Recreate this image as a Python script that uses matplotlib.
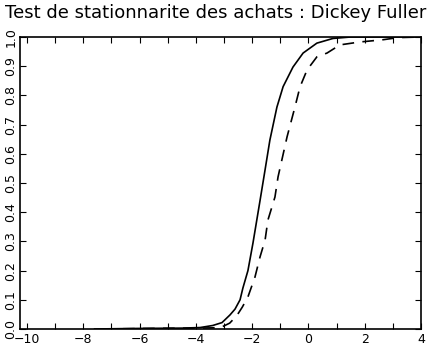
import numpy as np
import matplotlib
matplotlib.use('Agg')
import matplotlib.pyplot as plt
from matplotlib.ticker import MultipleLocator

title = 'Test de stationnarite des achats : Dickey Fuller'

# statistique observee (trait plein)
x_solid = [-7.6, -6.0, -4.5, -3.85, -3.4, -3.07, -2.79, -2.61, -2.43, -2.33, -2.15,
           -1.97, -1.72, -1.55, -1.37, -1.12, -0.90, -0.55, -0.19, 0.30, 0.87, 1.5, 4.0]
y_solid = [0.0, 0.002, 0.003, 0.005, 0.012, 0.022, 0.048, 0.068, 0.10, 0.14, 0.20,
           0.295, 0.44, 0.54, 0.647, 0.76, 0.83, 0.897, 0.945, 0.979, 0.995, 1.0, 1.0]

# distribution de reference (tirets)
x_dash = [-7.3, -5.5, -4.0, -3.4, -3.1, -2.8, -2.55, -2.35, -2.15, -1.90, -1.72, -1.54,
          -1.44, -1.19, -1.08, -0.76, -0.48, -0.30, -0.05, 0.30, 0.66, 1.12, 1.83, 2.6,
          3.2, 4.0]
y_dash = [0.0, 0.002, 0.003, 0.004, 0.006, 0.02, 0.045, 0.075, 0.11, 0.178, 0.247, 0.305,
          0.373, 0.452, 0.521, 0.658, 0.76, 0.829, 0.887, 0.932, 0.945, 0.973, 0.983, 0.99,
          0.998, 1.0]

fig = plt.figure(figsize=(4.31, 3.64), dpi=100)
ax = fig.add_axes([20 / 431, 35 / 364, 401 / 431, 292 / 364])

ax.plot(x_solid, y_solid, color='black', lw=1.2)
ax.plot(x_dash, y_dash, color='black', lw=1.2, linestyle=(0, (7, 5)))

ax.set_xlim(-10.25, 4)
ax.set_ylim(0, 1)
ax.set_xticks([-10, -8, -6, -4, -2, 0, 2, 4])
ax.xaxis.set_minor_locator(MultipleLocator(1))
ax.set_yticks(np.arange(0, 1.01, 0.1))
ax.tick_params(direction='in', top=True, right=True, which='both', length=4, width=0.8)
ax.tick_params(axis='x', labelsize=9, pad=3)
ax.tick_params(axis='y', labelsize=9, pad=2)
for lab in ax.get_yticklabels():
    lab.set_rotation(90)
    lab.set_va('center')
for s in ax.spines.values():
    s.set_linewidth(1.2)

fig.text(0.5, 0.99, title, ha='center', va='top', fontsize=13)

plt.savefig('out.png', dpi=100)
